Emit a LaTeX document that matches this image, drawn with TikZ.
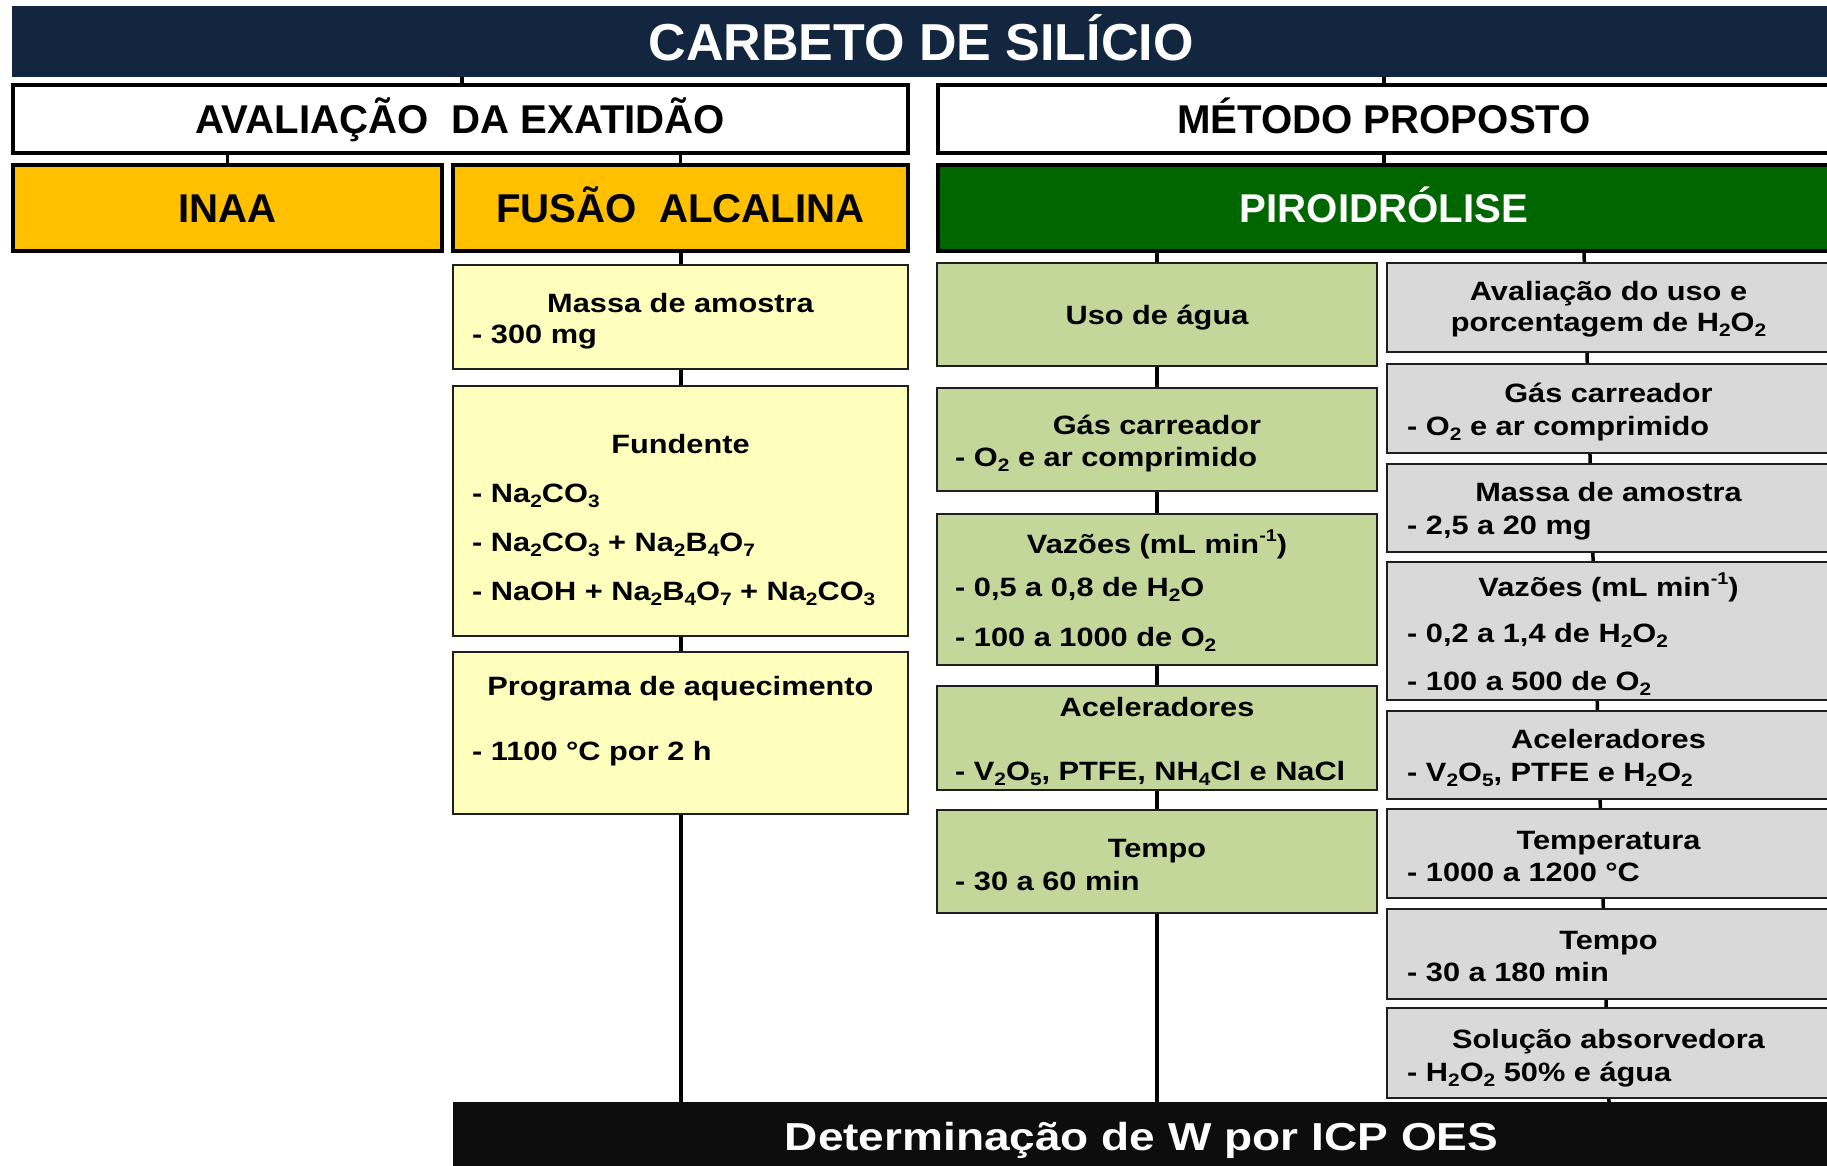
\documentclass[tikz,border=0pt]{standalone}
\usepackage{fontspec}
\setmainfont{Liberation Sans}
\newfontfamily\trackfont[FakeStretch=1.16]{Liberation Sans}
\newfontfamily\trackfontb[FakeStretch=1.18]{Liberation Sans}
\usetikzlibrary{backgrounds}
\definecolor{navy}{RGB}{18,38,64}
\definecolor{amber}{RGB}{255,192,0}
\definecolor{pgreen}{RGB}{0,102,0}
\definecolor{lyellow}{RGB}{255,255,189}
\definecolor{lgreen}{RGB}{196,215,155}
\definecolor{lgray}{RGB}{217,217,217}
\definecolor{nearblack}{RGB}{13,13,13}
\newcommand\sbs[1]{\raisebox{-0.22em}{\fontsize{18}{18}\selectfont#1}}
\newcommand\sps[1]{\raisebox{0.42em}{\fontsize{17}{17}\selectfont#1}}
\tikzset{
  hdr/.style={draw=black, line width=3.5pt, inner sep=0pt, text height=28.6pt, text depth=0pt,
    font=\fontsize{40.2}{44}\selectfont\bfseries},
  cell/.style={draw=black!88, line width=2.2pt, inner sep=0pt},
  conn/.style={draw=black, line width=4pt},
  thinconn/.style={draw=black, line width=3.5pt},
  btxt/.style={font=\trackfont\fontsize{26.5}{31}\selectfont\bfseries, inner sep=0pt, text=black},
  ctr/.style={btxt, anchor=base},
  lft/.style={btxt, anchor=base west},
}
\begin{document}
\begin{tikzpicture}[x=1pt,y=-1pt]
\useasboundingbox (0,0) rectangle (1827,1166);
\clip (0,0) rectangle (1827,1166);

% title
\node[fill=navy, minimum width=1818pt, minimum height=71pt, inner sep=0pt, text=white,
  text height=37.2pt, text depth=0pt, font=\fontsize{52}{56}\selectfont\bfseries] (title) at (921,41.5) {CARBETO DE SILÍCIO};

% headers
\node[hdr, fill=white, minimum width=895pt, minimum height=68pt] (aval) at (460.5,119) {AVALIAÇÃO\ \ DA EXATIDÃO};
\node[hdr, fill=white, minimum width=892pt, minimum height=68pt] (metodo) at (1384,119) {MÉTODO PROPOSTO};
\node[hdr, fill=amber, minimum width=429pt, minimum height=86pt] (inaa) at (227.5,208) {INAA};
\node[hdr, fill=amber, minimum width=455pt, minimum height=86pt] (fusao) at (680.5,208) {FUSÃO\ \ ALCALINA};
\node[hdr, fill=pgreen, text=white, minimum width=892pt, minimum height=86pt] (piro) at (1384,208) {PIROIDRÓLISE};

% bottom bar
\node[fill=nearblack, minimum width=1377pt, minimum height=68pt, inner sep=0pt, text=white,
  text height=28pt, text depth=0pt, font=\trackfontb\fontsize{39}{44}\selectfont\bfseries] (bottom) at (1141.5,1136) {Determinação de W por ICP OES};

% yellow column
\node[cell, fill=lyellow, minimum width=455pt, minimum height=104pt] (y1) at (680.5,317) {};
\node[cell, fill=lyellow, minimum width=455pt, minimum height=250pt] (y2) at (680.5,511) {};
\node[cell, fill=lyellow, minimum width=455pt, minimum height=162pt] (y3) at (680.5,733) {};
\node[ctr] (y1t) at (680.5,312) {Massa de amostra};
\node[lft] (y1a) at (472,343) {- 300 mg};
\node[ctr] (y2t) at (680.5,453) {Fundente};
\node[lft] (y2a) at (472,502) {- Na\sbs{2}CO\sbs{3}};
\node[lft] (y2b) at (472,551) {- Na\sbs{2}CO\sbs{3} + Na\sbs{2}B\sbs{4}O\sbs{7}};
\node[lft] (y2c) at (472,600) {- NaOH + Na\sbs{2}B\sbs{4}O\sbs{7} + Na\sbs{2}CO\sbs{3}};
\node[ctr] (y3t) at (680.5,695) {Programa de aquecimento};
\node[lft] (y3a) at (472,760) {- 1100 °C por 2 h};

% green column
\node[cell, fill=lgreen, minimum width=440pt, minimum height=103pt] (g1) at (1157,314.5) {};
\node[cell, fill=lgreen, minimum width=440pt, minimum height=103pt] (g2) at (1157,439.5) {};
\node[cell, fill=lgreen, minimum width=440pt, minimum height=151pt] (g3) at (1157,589.5) {};
\node[cell, fill=lgreen, minimum width=440pt, minimum height=104pt] (g4) at (1157,738) {};
\node[cell, fill=lgreen, minimum width=440pt, minimum height=103pt] (g5) at (1157,861.5) {};
\node[ctr] (g1t) at (1157,324) {Uso de água};
\node[ctr] (g2t) at (1157,434) {Gás carreador};
\node[lft] (g2a) at (955,466) {- O\sbs{2} e ar comprimido};
\node[ctr] (g3t) at (1157,553) {Vazões (mL min\sps{-1})};
\node[lft] (g3a) at (955,596) {- 0,5 a 0,8 de H\sbs{2}O};
\node[lft] (g3b) at (955,646) {- 100 a 1000 de O\sbs{2}};
\node[ctr] (g4t) at (1157,716) {Aceleradores};
\node[lft] (g4a) at (955,780) {- V\sbs{2}O\sbs{5}, PTFE, NH\sbs{4}Cl e NaCl};
\node[ctr] (g5t) at (1157,857) {Tempo};
\node[lft] (g5a) at (955,890) {- 30 a 60 min};

% gray column
\node[cell, fill=lgray, minimum width=443pt, minimum height=89pt] (r1) at (1608.5,307.5) {};
\node[cell, fill=lgray, minimum width=443pt, minimum height=89pt] (r2) at (1608.5,408.5) {};
\node[cell, fill=lgray, minimum width=443pt, minimum height=88pt] (r3) at (1608.5,508) {};
\node[cell, fill=lgray, minimum width=443pt, minimum height=138pt] (r4) at (1608.5,631) {};
\node[cell, fill=lgray, minimum width=443pt, minimum height=88pt] (r5) at (1608.5,755) {};
\node[cell, fill=lgray, minimum width=443pt, minimum height=89pt] (r6) at (1608.5,853.5) {};
\node[cell, fill=lgray, minimum width=443pt, minimum height=90pt] (r7) at (1608.5,954) {};
\node[cell, fill=lgray, minimum width=443pt, minimum height=90pt] (r8) at (1608.5,1053) {};
\node[ctr] (r1t) at (1608.5,300) {Avaliação do uso e};
\node[ctr] (r1u) at (1608.5,331) {porcentagem de H\sbs{2}O\sbs{2}};
\node[ctr] (r2t) at (1608.5,402) {Gás carreador};
\node[lft] (r2a) at (1407,435) {- O\sbs{2} e ar comprimido};
\node[ctr] (r3t) at (1608.5,501) {Massa de amostra};
\node[lft] (r3a) at (1407,534) {- 2,5 a 20 mg};
\node[ctr] (r4t) at (1608.5,596) {Vazões (mL min\sps{-1})};
\node[lft] (r4a) at (1407,642) {- 0,2 a 1,4 de H\sbs{2}O\sbs{2}};
\node[lft] (r4b) at (1407,690) {- 100 a 500 de O\sbs{2}};
\node[ctr] (r5t) at (1608.5,748) {Aceleradores};
\node[lft] (r5a) at (1407,781) {- V\sbs{2}O\sbs{5}, PTFE e H\sbs{2}O\sbs{2}};
\node[ctr] (r6t) at (1608.5,849) {Temperatura};
\node[lft] (r6a) at (1407,881) {- 1000 a 1200 °C};
\node[ctr] (r7t) at (1608.5,949) {Tempo};
\node[lft] (r7a) at (1407,981) {- 30 a 180 min};
\node[ctr] (r8t) at (1608.5,1048) {Solução absorvedora};
\node[lft] (r8a) at (1407,1081) {- H\sbs{2}O\sbs{2} 50\% e água};

\coordinate (gtop) at (1584,252);
\coordinate (gbot) at (1609,1102);

\begin{scope}[on background layer]
  \fill[white] (0,0) rectangle (1827,1166);
  \draw[thinconn] (aval.north -| 462,0) -- (title.south -| 462,0);
  \draw[thinconn] (metodo.north) -- (metodo.north |- title.south);
  \draw[thinconn] (inaa.north) -- (inaa.north |- aval.south);
  \draw[thinconn] (fusao.north) -- (fusao.north |- aval.south);
  \draw[thinconn] (piro.north) -- (piro.north |- metodo.south);
  \draw[conn] (fusao.south) -- (fusao.south |- bottom.north);
  \draw[conn] (piro.south -| g1.north) -- (g1.north |- bottom.north);
  \draw[thinconn] (gtop) -- (gbot);
\end{scope}
\end{tikzpicture}
\end{document}
